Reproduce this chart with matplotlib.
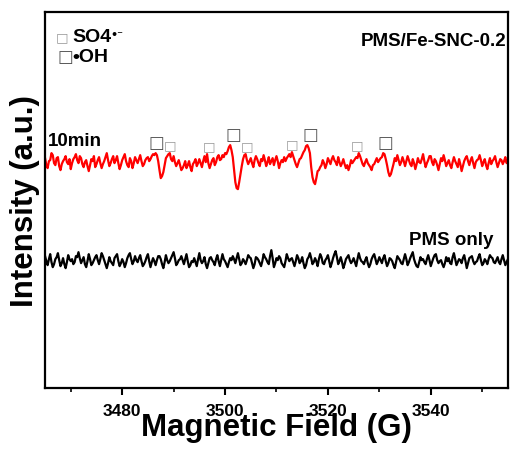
import numpy as np
import matplotlib
matplotlib.use("Agg")
import matplotlib.pyplot as plt

plt.rcParams['font.family'] = ['Liberation Sans', 'DejaVu Sans']
plt.rcParams['font.weight'] = 'bold'

# EPR spectra (signal in a.u., baseline-centred), 0.25 G steps
field_range = (3465, 3555)

red_signal = [
    4, -3, -6, 1, 2, 9, 7, -1, -3, 4, 5, -4, -8, -2, 1, 3, 6, 0, -2, 3,
    -7, -1, 3, 5, 8, 2, -1, 6, 4, -2, -5, 0, 2, -4, -9, -3, 3, 1, 6, -5,
    -2, 2, 5, -1, -6, -2, 1, 5, 9, 2, -4, -1, 3, 6, -1, 2, 6, -1, -7, -3,
    2, 5, 8, 1, -3, -5, 4, 1, -6, -1, 5, 2, -1, 3, 7, 1, -4, -2, 2, 4,
    5, 1, 3, 6, 8, 7, 9, 7, 1, -8, -16, -14, -10, -3, 4, 6, 8, 9, 3, 1,
    6, 0, -4, -1, 2, -3, -8, -6, -3, 1, -6, -3, 1, -5, -9, -2, 0, 3, -4, -1,
    3, -1, -5, 1, 6, 0, 8, -1, -6, -2, 2, 4, -3, 0, 5, 7, 2, 3, 7, 5,
    9, 8, 11, 15, 17, 12, 5, -8, -20, -26, -27, -20, -12, -4, 3, 7, 8, 2, -2, 1,
    4, -1, -5, 2, 6, 3, -1, -4, 3, 1, 7, 2, -4, 0, 5, -2, 1, 4, -3, 2,
    6, 1, -6, -1, 2, 0, 5, 1, 4, 6, 8, 5, 10, 6, 2, -2, -5, -1, 3, 4,
    7, 10, 12, 16, 17, 14, 9, -5, -15, -20, -22, -16, -9, -8, -5, -3, 2, -1, -6, -2,
    4, 1, -2, 3, 6, 2, 0, -3, 5, 0, -4, -1, 3, -2, -6, -3, -8, -4, 2, -1,
    1, 3, 5, 4, 9, 6, 2, -2, -4, 0, 3, -1, -3, -5, -8, -3, -2, 1, 4, 0,
    2, 4, 5, 9, 8, 3, -3, -10, -14, -12, -7, -2, 4, 1, 7, 2, -3, 0, 5, 1,
    -4, 1, 6, 2, -2, -4, 3, -1, -7, -2, 4, 0, -1, 3, 8, 1, -5, -1, 2, 6,
    6, 0, -3, 3, 1, -3, -8, -2, 4, 1, 7, 2, -4, -1, 2, -3, -6, 0, 5, 1,
    -2, -5, 3, -2, -9, -4, 1, 4, 6, 1, -3, 2, 5, -1, -6, 0, 2, 3, 7, 2,
    -4, 0, 3, -3, -7, -1, 4, -2, 1, 3, 6, 0, -5, -1, 3, 2, -2, 1, 5, -1,
    2,
]

black_signal = [
    5, 0, -4, 2, 7, -1, -6, -3, 2, 4, 8, 1, -5, -2, 3, -3, -7, -1, 6, 2,
    0, 2, -3, -1, 5, 4, 9, 3, -2, 1, 4, -3, -6, 0, 7, 2, -4, -2, 1, 4,
    6, 1, -3, 2, 8, 5, 1, -3, -7, -2, 4, 0, -2, -4, 3, 5, 7, 0, -5, -2,
    2, -1, -6, -2, 3, 6, 8, 2, -3, 0, 5, 1, -1, 3, 6, 0, -5, -3, 0, 4,
    7, 0, -6, -1, 3, 0, -4, 1, 5, 5, 2, -3, -7, -1, 6, 1, -2, 0, 3, 6,
    9, 3, -4, -2, 1, 2, 5, 1, -3, 2, 7, 0, -6, -4, 0, -1, 3, -1, -5, 2,
    8, 1, -2, 0, 4, -3, -7, -2, 3, 4, 1, -1, -4, 2, 6, 0, -5, 1, 7, 2,
    0, -3, -6, -1, 3, 1, 5, 2, -2, 3, 8, 2, -4, -2, 2, 0, -3, 1, 6, 4,
    3, -2, -7, -3, 4, 3, 1, -2, -5, 0, 7, 4, 2, -1, -3, 5, 11, 3, -6, -2,
    3, 1, 5, 3, -2, -4, -6, 0, 7, 3, 0, 2, 3, -1, -5, 0, 6, 3, -2, 0,
    4, -2, -7, -4, 2, 4, 8, 3, -3, -1, 3, 0, -5, 2, 7, 4, -2, -3, 1, 3,
    6, 0, -6, -2, 3, 7, 10, 4, -3, 0, 4, -1, -7, -3, 2, 4, 6, 1, -2, 0,
    3, -1, -5, 2, 8, 3, 0, -1, -3, 1, 4, -2, -6, -3, 2, 5, 7, 2, -3, 0,
    4, 1, -2, 3, 6, 0, -5, -2, 3, 2, 0, -4, -7, -1, 5, 3, 1, -2, -3, 2,
    7, 2, -4, -1, 3, 6, 9, 2, -2, -5, -6, -1, 4, 1, 2, -1, -3, 2, 6, 1,
    -5, -1, 3, 6, 7, 1, -2, 0, 1, -3, -6, -2, 4, 0, 3, -2, -3, 4, 8, 2,
    -4, -1, 2, 1, -2, 3, 6, 0, -7, -2, 3, 4, 5, 0, -3, -1, 0, 4, 7, 1,
    -4, -2, 2, 0, -3, 2, 6, 4, 3, -1, -2, 1, 4, -1, -3, 2, 6, 1, -4, -1,
    2,
]

# Spin-adduct peak positions (G)
oh_peaks = [3486.6, 3501.7, 3516.5, 3531.1]
so4_peaks = [3489.3, 3496.9, 3504.3, 3513.0, 3525.6]

xticks = [3480, 3500, 3520, 3540]
stack_offset = 99

red_field = np.linspace(*field_range, len(red_signal))
black_field = np.linspace(*field_range, len(black_signal))
red = np.array(red_signal, float) + stack_offset
black = np.array(black_signal, float)

fig = plt.figure(figsize=(5.12, 4.52), dpi=100)
ax = fig.add_axes([0.088, 0.139, 0.904, 0.832])

ax.plot(red_field, red, color='#ff0000', lw=1.6)
ax.plot(black_field, black, color='black', lw=1.6)

ax.set_xlim(*field_range)
ax.set_ylim(-127, 249)
ax.set_yticks([])
ax.set_xticks(xticks)
ax.set_xticks(np.arange(3470, 3556, 10), minor=True)
ax.tick_params(axis='x', which='major', direction='out', length=5, width=1.5,
               labelsize=12.5, pad=6)
ax.tick_params(axis='x', which='minor', direction='out', length=3, width=1.2)
for lab in ax.get_xticklabels():
    lab.set_fontweight('bold')
for s in ax.spines.values():
    s.set_linewidth(1.6)

ax.set_xlabel('Magnetic Field (G)', fontsize=22.5, fontweight='bold', labelpad=-5)
ax.set_ylabel('Intensity (a.u.)', fontsize=22.5, fontweight='bold', labelpad=4)


def local_max(field, sig, x0, half=0.8):
    m = np.abs(field - x0) <= half
    return sig[m].max()


box_font = ['DejaVu Sans']
for p in oh_peaks:
    y = local_max(red_field, red, p)
    ax.text(p, y + 2, '\u25a1', fontsize=12, color='#555555', ha='center',
            va='bottom', family=box_font, fontweight='normal')
for p in so4_peaks:
    y = local_max(red_field, red, p)
    ax.text(p, y + 2, '\u25a1', fontsize=9.5, color='#999999', ha='center',
            va='bottom', family=box_font, fontweight='normal')

# Legend for adduct markers
ax.text(0.024, 0.935, '\u25a1', transform=ax.transAxes, fontsize=9.5,
        color='#999999', family=box_font, fontweight='normal', va='center')
ax.text(0.058, 0.935, 'SO4', transform=ax.transAxes, fontsize=14,
        fontweight='bold', va='center')
ax.text(0.141, 0.942, '\u2022\u207b', transform=ax.transAxes, fontsize=8,
        fontweight='bold', va='center', family=['DejaVu Sans'])
ax.text(0.026, 0.882, '\u25a1', transform=ax.transAxes, fontsize=12,
        color='#555555', family=box_font, fontweight='normal', va='center')
ax.text(0.060, 0.882, '\u2022OH', transform=ax.transAxes, fontsize=14,
        fontweight='bold', va='center')

ax.text(0.997, 0.925, 'PMS/Fe-SNC-0.2', transform=ax.transAxes, fontsize=13.5,
        fontweight='bold', ha='right', va='center')
ax.text(0.007, stack_offset + 22, '10min', transform=ax.get_yaxis_transform(),
        fontsize=13.5, fontweight='bold', ha='left', va='center')
ax.text(0.968, 22, 'PMS only', transform=ax.get_yaxis_transform(),
        fontsize=13.5, fontweight='bold', ha='right', va='center')

fig.savefig('out.png', dpi=100)
